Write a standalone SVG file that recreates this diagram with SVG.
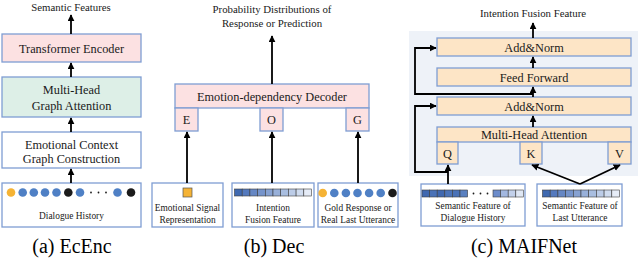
<svg xmlns="http://www.w3.org/2000/svg" xmlns:xlink="http://www.w3.org/1999/xlink" width="640" height="260" viewBox="0 0 640 260" font-family="'Liberation Serif', 'Times New Roman', serif">
<style>
.box{stroke:#7f9dd3;stroke-width:1.3}
.pink{fill:#fce1e2}
.green{fill:#ddefe7}
.white{fill:#ffffff}
.gold{fill:#fde5c6}
.t{font-family:'Liberation Serif','Times New Roman',serif;fill:#1a1a1a;text-anchor:middle}
.lbl{font-size:12.3px}
.sm{font-size:9.4px}
.top{font-size:10.8px}
.cap{font-size:20px;fill:#000}
.conn{stroke:#000;stroke-width:1.8;fill:none}
.or{fill:#f5b335}
.bl{fill:#4f80c5}
.bk{fill:#1b1b1b}
.cell{stroke:#3c3c3c;stroke-width:0.6}
.sq{fill:#f5b335;stroke:#555;stroke-width:0.7}
</style>
<defs>
<marker id="ah" viewBox="0 0 10 10" refX="9" refY="5" markerWidth="7" markerHeight="7" markerUnits="userSpaceOnUse" orient="auto">
<path d="M0,0 L10,5 L0,10 z" fill="#000"/>
</marker>
<g id="bar10">
<rect class="cell" x="0" y="0" width="7.7" height="7" fill="#3f69b0"/>
<rect class="cell" x="7.7" y="0" width="7.7" height="7" fill="#5479bd"/>
<rect class="cell" x="15.4" y="0" width="7.7" height="7" fill="#6687c4"/>
<rect class="cell" x="23.1" y="0" width="7.7" height="7" fill="#7694cb"/>
<rect class="cell" x="30.8" y="0" width="7.7" height="7" fill="#87a2d2"/>
<rect class="cell" x="38.5" y="0" width="7.7" height="7" fill="#98b0d9"/>
<rect class="cell" x="46.2" y="0" width="7.7" height="7" fill="#a9bee0"/>
<rect class="cell" x="53.9" y="0" width="7.7" height="7" fill="#bccce7"/>
<rect class="cell" x="61.6" y="0" width="7.7" height="7" fill="#d0dcef"/>
<rect class="cell" x="69.3" y="0" width="7.7" height="7" fill="#e6ecf7"/>
</g>
</defs>

<!-- Panel (a) -->
<text class="t top" x="71" y="11">Semantic Features</text>
<g id="transformer-encoder">
<rect class="box pink" x="2" y="34" width="139" height="28"/>
<text class="t lbl" x="71.5" y="52.5">Transformer Encoder</text>
</g>
<g id="mhga">
<rect class="box green" x="2" y="77" width="139" height="40"/>
<text class="t lbl" x="71.5" y="94">Multi-Head</text>
<text class="t lbl" x="71.5" y="109.5">Graph Attention</text>
</g>
<g id="ecgc">
<rect class="box white" x="2" y="132" width="139" height="36"/>
<text class="t lbl" x="71.5" y="148.5">Emotional Context</text>
<text class="t lbl" x="71.5" y="162.5">Graph Construction</text>
</g>
<g id="dialogue-history">
<rect class="box white" x="2" y="183" width="139" height="44"/>
<circle class="or" cx="11" cy="192.5" r="4.3"/>
<circle class="bl" cx="22.7" cy="192.5" r="4.3"/>
<circle class="bl" cx="33.8" cy="192.5" r="4.3"/>
<circle class="bl" cx="45" cy="192.5" r="4.3"/>
<circle class="bl" cx="56.5" cy="192.5" r="4.3"/>
<circle class="bk" cx="68.3" cy="192.5" r="4.3"/>
<circle class="bl" cx="80" cy="192.5" r="4.3"/>
<circle class="bk" cx="91" cy="192.5" r="0.9"/>
<circle class="bk" cx="98.5" cy="192.5" r="0.9"/>
<circle class="bk" cx="106" cy="192.5" r="0.9"/>
<circle class="bl" cx="117.5" cy="192.5" r="4.3"/>
<circle class="bk" cx="131" cy="192.5" r="4.3"/>
<text class="t sm" x="71.5" y="219">Dialogue History</text>
</g>
<text class="t cap" x="72" y="253">(a) EcEnc</text>

<!-- Panel (b) -->
<text class="t top" x="272" y="13">Probability Distributions of</text>
<text class="t top" x="272" y="27">Response or Prediction</text>
<g id="decoder">
<rect class="box pink" x="175" y="84" width="194" height="24"/>
<text class="t lbl" x="272" y="101">Emotion-dependency Decoder</text>
</g>
<g id="port-e">
<rect class="box pink" x="175" y="108" width="23" height="23"/>
<text class="t lbl" x="186.5" y="124">E</text>
</g>
<g id="port-o">
<rect class="box pink" x="260" y="108" width="23" height="23"/>
<text class="t lbl" x="271.5" y="124">O</text>
</g>
<g id="port-g">
<rect class="box pink" x="346" y="108" width="23" height="23"/>
<text class="t lbl" x="357.5" y="124">G</text>
</g>
<g id="emotional-signal">
<rect class="box white" x="152" y="183" width="71" height="44"/>
<rect class="sq" x="183" y="188" width="9" height="9"/>
<text class="t sm" x="187.5" y="211">Emotional Signal</text>
<text class="t sm" x="187.5" y="223">Representation</text>
</g>
<g id="intention-fusion">
<rect class="box white" x="232" y="183" width="82" height="44"/>
<use xlink:href="#bar10" href="#bar10" x="234.5" y="189"/>
<text class="t sm" x="273" y="211">Intention</text>
<text class="t sm" x="273" y="223">Fusion Feature</text>
</g>
<g id="gold-response">
<rect class="box white" x="318" y="183" width="80" height="44"/>
<circle class="or" cx="322.7" cy="193" r="4.3"/>
<circle class="bl" cx="334.3" cy="193" r="4.3"/>
<circle class="bl" cx="345.9" cy="193" r="4.3"/>
<circle class="bl" cx="357.5" cy="193" r="4.3"/>
<circle class="bl" cx="369.1" cy="193" r="4.3"/>
<circle class="bl" cx="380.7" cy="193" r="4.3"/>
<circle class="bk" cx="392.5" cy="193" r="4.3"/>
<text class="t sm" x="358" y="211">Gold Response or</text>
<text class="t sm" x="358" y="223">Real Last Utterance</text>
</g>
<text class="t cap" x="274" y="253">(b) Dec</text>

<!-- Panel (c) -->
<rect x="409" y="31" width="229" height="145" fill="#eef2f8"/>
<text class="t top" x="533" y="17">Intention Fusion Feature</text>
<g id="addnorm-top">
<rect class="box gold" x="437" y="38" width="194" height="18"/>
<text class="t lbl" x="534" y="51.5">Add&amp;Norm</text>
</g>
<g id="feed-forward">
<rect class="box gold" x="437" y="68" width="194" height="18"/>
<text class="t lbl" x="534" y="81.5">Feed Forward</text>
</g>
<g id="addnorm-bottom">
<rect class="box gold" x="437" y="97" width="194" height="18"/>
<text class="t lbl" x="534" y="110.5">Add&amp;Norm</text>
</g>
<g id="mha">
<rect class="box gold" x="437" y="127" width="194" height="15"/>
<text class="t lbl" x="534" y="138.5">Multi-Head Attention</text>
</g>
<g id="port-q">
<rect class="box gold" x="437" y="142" width="21" height="22"/>
<text class="t lbl" x="447.5" y="157.5">Q</text>
</g>
<g id="port-k">
<rect class="box gold" x="520" y="142" width="22" height="22"/>
<text class="t lbl" x="531" y="157.5">K</text>
</g>
<g id="port-v">
<rect class="box gold" x="608" y="142" width="23" height="22"/>
<text class="t lbl" x="619.5" y="157.5">V</text>
</g>
<g id="sf-dialogue-history">
<rect class="box white" x="421" y="184" width="104" height="42"/>
<rect class="cell" x="422" y="190" width="7.6" height="7" fill="#4068b0"/>
<rect class="cell" x="429.6" y="190" width="7.6" height="7" fill="#4a72b7"/>
<rect class="cell" x="437.2" y="190" width="7.6" height="7" fill="#4068b0"/>
<rect class="cell" x="444.8" y="190" width="7.6" height="7" fill="#4c74b9"/>
<rect class="cell" x="452.4" y="190" width="7.6" height="7" fill="#4a72b7"/>
<rect class="cell" x="460" y="190" width="7.6" height="7" fill="#5a80c0"/>
<circle class="bk" cx="473.5" cy="193.5" r="0.9"/>
<circle class="bk" cx="480.5" cy="193.5" r="0.9"/>
<circle class="bk" cx="487.5" cy="193.5" r="0.9"/>
<rect class="cell" x="493" y="190" width="7.6" height="7" fill="#6c8ccb"/>
<rect class="cell" x="500.6" y="190" width="7.6" height="7" fill="#a3b8e0"/>
<rect class="cell" x="508.2" y="190" width="7.6" height="7" fill="#c2d0ea"/>
<rect class="cell" x="515.8" y="190" width="7.6" height="7" fill="#dfe7f4"/>
<text class="t sm" x="473" y="209">Semantic Feature of</text>
<text class="t sm" x="473" y="221">Dialogue History</text>
</g>
<g id="sf-last-utterance">
<rect class="box white" x="537" y="184" width="85" height="42"/>
<use xlink:href="#bar10" href="#bar10" x="542.5" y="190"/>
<text class="t sm" x="580" y="209">Semantic Feature of</text>
<text class="t sm" x="580" y="221">Last Utterance</text>
</g>
<text class="t cap" x="524" y="253">(c) MAIFNet</text>

<!-- Connectors -->
<g id="connectors" class="conn" marker-end="url(#ah)">
<line x1="71" y1="34" x2="71" y2="15"/>
<line x1="71" y1="77" x2="71" y2="63"/>
<line x1="71" y1="132" x2="71" y2="118"/>
<line x1="71" y1="183" x2="71" y2="169"/>
<line x1="272" y1="84" x2="272" y2="36"/>
<line x1="187" y1="183" x2="187" y2="132"/>
<line x1="272" y1="183" x2="272" y2="132"/>
<line x1="358" y1="183" x2="358" y2="132"/>
<line x1="533" y1="38" x2="533" y2="23"/>
<line x1="533" y1="68" x2="533" y2="57"/>
<line x1="533" y1="97" x2="533" y2="87"/>
<line x1="533" y1="127" x2="533" y2="116"/>
<polyline points="533,94 415,94 415,48 436,48"/>
<line x1="448" y1="184" x2="448" y2="165"/>
<polyline points="448,172 415,172 415,106 436,106"/>
<line x1="580" y1="184" x2="532" y2="165"/>
<line x1="580" y1="184" x2="620" y2="165"/>
</g>
</svg>
